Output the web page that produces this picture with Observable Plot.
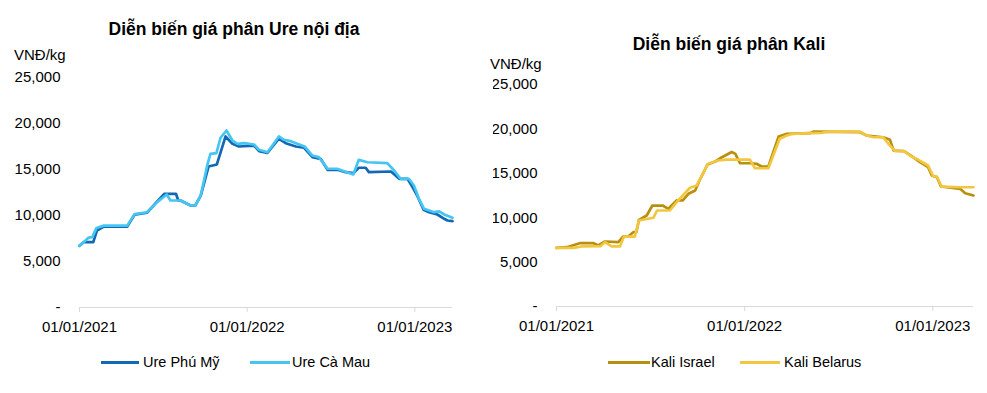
<!DOCTYPE html>
<html>
<head>
<meta charset="utf-8">
<script src="https://cdn.jsdelivr.net/npm/d3@7"></script>
<script src="https://cdn.jsdelivr.net/npm/@observablehq/plot@0.6"></script>
<style>
  html, body { margin: 0; padding: 0; background: #fff; }
  #root { position: relative; width: 987px; height: 393px; font-family: "Liberation Sans", Arial, sans-serif; color: #000; overflow: hidden; }
  .abs { position: absolute; line-height: 1; white-space: nowrap; }
  .title { font-weight: bold; font-size: 17.5px; text-align: center; }
  .unit { font-size: 15px; }
  .leg { font-size: 14.5px; }
  .sw { position: absolute; height: 3px; }
  #left, #right { position: absolute; top: 0; }
  #left { left: 0; }
  #right { left: 493px; }
</style>
</head>
<body>
<div id="root">
  <div id="left"></div>
  <div id="right"></div>
  <div class="abs title" style="left:0;width:468px;top:21.2px;">Diễn biến giá phân Ure nội địa</div>
  <div class="abs title" style="left:493px;width:472px;top:36.2px;">Diễn biến giá phân Kali</div>
  <div class="abs unit" style="left:14px;top:47.3px;">VNĐ/kg</div>
  <div class="abs unit" style="left:490px;top:56.3px;">VNĐ/kg</div>
  <div class="sw" style="left:101px;width:38px;top:361px;background:#1268b3;"></div>
  <div class="abs leg" style="left:143px;top:354.7px;">Ure Phú Mỹ</div>
  <div class="sw" style="left:250px;width:40px;top:361px;background:#46c5f3;"></div>
  <div class="abs leg" style="left:292px;top:354.7px;">Ure Cà Mau</div>
  <div class="sw" style="left:608px;width:42px;top:361px;background:#b8900f;"></div>
  <div class="abs leg" style="left:651px;top:354.7px;">Kali Israel</div>
  <div class="sw" style="left:740px;width:40px;top:361px;background:#f3c63f;"></div>
  <div class="abs leg" style="left:784px;top:354.7px;">Kali Belarus</div>
</div>
<script>
// ---------- Data ----------
const xTicks = ["2021-01-01", "2022-01-01", "2023-01-01"];
const yTicks = [0, 5000, 10000, 15000, 20000, 25000];

const urePhuMyDates = ["2021-01-01","2021-01-10","2021-01-31","2021-02-08","2021-02-23","2021-04-15","2021-05-01","2021-05-28","2021-06-15","2021-07-05","2021-07-30","2021-08-04","2021-08-09","2021-08-31","2021-09-10","2021-09-22","2021-10-09","2021-10-27","2021-11-15","2021-11-30","2021-12-14","2022-01-16","2022-01-27","2022-02-14","2022-03-11","2022-03-26","2022-04-17","2022-05-05","2022-05-23","2022-06-10","2022-06-25","2022-07-16","2022-07-31","2022-08-20","2022-09-01","2022-09-16","2022-09-23","2022-11-10","2022-11-28","2022-12-16","2022-12-27","2023-01-07","2023-01-20","2023-02-01","2023-02-19","2023-03-06","2023-03-13","2023-03-24"];
const urePhuMyValues = [6700,7100,7100,8370,8800,8800,10100,10300,11300,12360,12360,11630,11630,11090,11090,12170,15330,15550,18590,17790,17500,17600,17000,16800,18340,17860,17500,17360,16340,16160,14970,14970,14750,14600,15190,15190,14710,14780,13990,13990,13080,12070,10620,10360,10110,9640,9460,9380];

const ureCaMauDates = ["2021-01-01","2021-01-10","2021-01-21","2021-01-29","2021-02-07","2021-02-23","2021-04-15","2021-05-01","2021-05-28","2021-06-19","2021-07-10","2021-07-18","2021-08-09","2021-08-31","2021-09-10","2021-09-22","2021-10-06","2021-10-13","2021-10-26","2021-11-04","2021-11-17","2021-11-30","2021-12-11","2021-12-25","2022-01-16","2022-01-27","2022-02-14","2022-02-25","2022-03-11","2022-03-22","2022-04-06","2022-04-20","2022-05-06","2022-05-23","2022-06-06","2022-06-25","2022-07-16","2022-07-31","2022-08-20","2022-09-01","2022-09-20","2022-11-02","2022-11-17","2022-12-01","2022-12-19","2022-12-30","2023-01-10","2023-01-21","2023-02-12","2023-02-23","2023-03-06","2023-03-24"];
const ureCaMauValues = [6700,7100,7600,7650,8650,8900,8900,10150,10350,11450,12280,11630,11630,11090,11090,12170,15440,16700,16780,18450,19240,18150,17790,17860,17720,17140,16880,17610,18590,18230,18080,17790,17500,16520,16340,15080,15080,14820,14460,16050,15790,15690,14890,13990,13990,13260,11810,10730,10360,10440,10110,9750];

const kaliIsraelDates = ["2021-01-01","2021-01-21","2021-02-15","2021-03-14","2021-03-23","2021-04-05","2021-05-01","2021-05-10","2021-05-20","2021-05-30","2021-06-05","2021-06-10","2021-06-25","2021-07-06","2021-07-26","2021-08-06","2021-08-22","2021-09-03","2021-09-14","2021-09-27","2021-10-07","2021-10-21","2021-11-05","2021-11-18","2021-12-07","2021-12-14","2021-12-23","2022-01-11","2022-01-24","2022-02-03","2022-02-16","2022-03-08","2022-03-24","2022-05-08","2022-05-15","2022-08-13","2022-08-26","2022-09-27","2022-10-10","2022-10-17","2022-11-06","2022-11-24","2022-12-07","2022-12-23","2022-12-30","2023-01-09","2023-01-17","2023-02-23","2023-03-05","2023-03-21"];
const kaliIsraelValues = [6610,6680,7130,7130,6870,7320,7240,7880,7880,8370,8400,9760,10250,11370,11370,11000,11940,11940,12690,13060,14380,15990,16330,16810,17400,17190,16130,16130,16070,15760,15760,19140,19450,19520,19700,19630,19250,19060,18770,17570,17490,16810,16250,15690,14750,14560,13510,13250,12760,12500];

const kaliBelarusDates = ["2021-01-01","2021-02-03","2021-02-19","2021-03-27","2021-04-05","2021-04-18","2021-05-04","2021-05-12","2021-06-02","2021-06-10","2021-07-08","2021-07-15","2021-08-09","2021-08-25","2021-09-17","2021-09-30","2021-10-10","2021-10-22","2021-11-11","2021-11-27","2022-01-11","2022-01-21","2022-02-16","2022-03-10","2022-03-24","2022-04-05","2022-05-08","2022-05-31","2022-06-10","2022-08-13","2022-08-26","2022-09-08","2022-09-27","2022-10-07","2022-10-20","2022-11-06","2022-11-21","2022-12-04","2022-12-23","2023-01-02","2023-01-09","2023-01-18","2023-02-23","2023-03-21"];
const kaliBelarusValues = [6610,6610,6760,6790,7240,6760,6760,7880,7880,9680,9990,10810,10810,11940,13370,13630,14750,16070,16440,16550,16550,15570,15570,18880,19250,19450,19520,19560,19700,19700,19250,19060,19060,18320,17490,17490,16890,16520,15880,14640,14640,13510,13430,13430];

// ---------- Build ----------
const parse = d3.utcParse("%Y-%m-%d");
const rows = (dates, values, name) => dates.map((d, i) => ({date: parse(d), value: values[i], series: name}));
const fmtY = d => d === 0 ? "-" : d3.format(",")(d);
const fmtX = d3.utcFormat("%d/%m/%Y");

function chart({width, marginLeft, marginRight, marginTop, marginBottom, height, end, series}) {
  return Plot.plot({
    width, height, marginLeft, marginRight, marginTop, marginBottom,
    style: {fontFamily: '"Liberation Sans", Arial, sans-serif', fontSize: "15px", color: "#000", background: "transparent"},
    x: {type: "utc", domain: [parse("2021-01-01"), parse(end)]},
    y: {domain: [0, 25000]},
    marks: [
      Plot.ruleY([0], {stroke: "#d9d9d9", strokeWidth: 1}),
      Plot.axisX({ticks: xTicks.map(parse), tickFormat: fmtX, tickSize: 5, tickPadding: 9, stroke: "#d9d9d9", fill: "#000", label: null}),
      Plot.axisY({ticks: yTicks, tickFormat: fmtY, tickSize: 0, tickPadding: 19, fill: "#000", label: null}),
      ...series.map(s => Plot.line(s.data, {x: "date", y: "value", stroke: s.color, strokeWidth: 2.7, strokeLinejoin: "round", strokeLinecap: "round"}))
    ]
  });
}

document.getElementById("left").append(chart({
  width: 470, height: 345, marginLeft: 79, marginRight: 18, marginTop: 77, marginBottom: 38,
  end: "2023-03-24",
  series: [
    {data: rows(urePhuMyDates, urePhuMyValues, "Ure Phú Mỹ"), color: "#1268b3"},
    {data: rows(ureCaMauDates, ureCaMauValues, "Ure Cà Mau"), color: "#46c5f3"}
  ]
}));

document.getElementById("right").append(chart({
  width: 494, height: 345, marginLeft: 63, marginRight: 14, marginTop: 84, marginBottom: 39,
  end: "2023-03-21",
  series: [
    {data: rows(kaliIsraelDates, kaliIsraelValues, "Kali Israel"), color: "#b8900f"},
    {data: rows(kaliBelarusDates, kaliBelarusValues, "Kali Belarus"), color: "#f3c63f"}
  ]
}));
</script>
</body>
</html>
